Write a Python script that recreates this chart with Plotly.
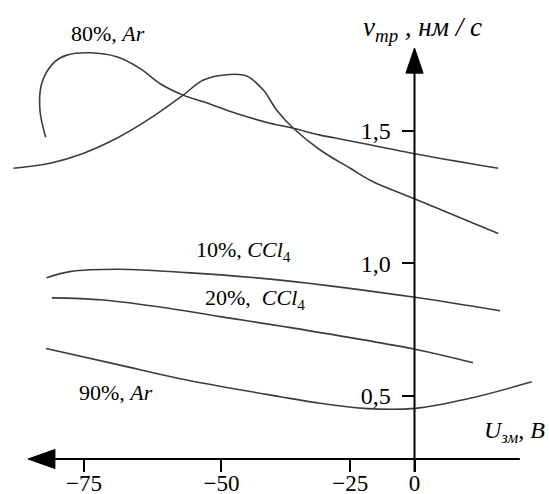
import plotly.graph_objects as go

# ---------------- data ----------------
# x: U_зм in the drawing's axis units, y: v_тр (nm/s)
AR80_U = [-83.7, -85.0, -84.6, -82.0, -78.9, -73.6, -67.6, -62.3, -57.8, -52.5, -47.9,
          -40.4, -32.8, -27.5, -21.4, -15.4, -0.3, 19.0]
AR80_V = [1.475, 1.578, 1.678, 1.754, 1.785, 1.794, 1.779, 1.735, 1.678, 1.634, 1.609,
          1.565, 1.528, 1.509, 1.483, 1.464, 1.414, 1.358]

HUMP_U = [-91.0, -82.7, -75.2, -67.6, -60.0, -52.5, -47.9, -41.9, -38.1, -34.3, -31.3,
          -27.5, -21.4, -14.6, -9.4, -0.3, 19.0]
HUMP_V = [1.358, 1.377, 1.414, 1.471, 1.546, 1.634, 1.691, 1.712, 1.706, 1.653, 1.578,
          1.509, 1.427, 1.358, 1.307, 1.245, 1.112]

CCL10_U = [-83.5, -78.2, -66.8, -51.7, -30.5, 0.1, 19.4]
CCL10_V = [0.945, 0.968, 0.977, 0.964, 0.936, 0.871, 0.820]

CCL20_U = [-82.3, -70.6, -55.5, -44.1, -30.5, 0.1, 13.3]
CCL20_V = [0.869, 0.861, 0.829, 0.798, 0.763, 0.675, 0.624]

AR90_U = [-83.6, -66.8, -51.7, -30.5, -21.4, -11.6, 0.1, 12.6, 26.6]
AR90_V = [0.678, 0.615, 0.559, 0.496, 0.471, 0.452, 0.452, 0.490, 0.552]

X_TICK_TEXT = ["\u221275", "\u221250", "\u221225", "0"]
X_TICK_VALS = [-75, -43.8, -14.6, 0]
Y_TICK_TEXT = ["0,5", "1,0", "1,5"]
Y_TICK_VALS = [0.5, 1.0, 1.5]

CURVE_LABELS = ["80%, <i>Ar</i>", "10%, <i>CCl</i><sub>4</sub>",
                "20%,  <i>CCl</i><sub>4</sub>", "90%, <i>Ar</i>"]
CURVE_LABEL_X = [-69.6, -38.7, -36.2, -67.7]
CURVE_LABEL_Y = [1.865, 1.046, 0.865, 0.510]

Y_TITLE = "<i>\u03bd</i><sub><i>тр</i></sub><i> , нм / с</i>"
X_TITLE = "<i>U</i><sub><i>зм</i></sub><i>, В</i>"

# ---------------- figure ----------------
FONT = "Liberation Serif"
CURVE_COLOR = "#3c3c3c"

fig = go.Figure()
for xs, ys in [(AR80_U, AR80_V), (HUMP_U, HUMP_V), (CCL10_U, CCL10_V),
               (CCL20_U, CCL20_V), (AR90_U, AR90_V)]:
    fig.add_trace(go.Scatter(x=xs, y=ys, mode="lines",
                             line=dict(color=CURVE_COLOR, width=1.6, shape="spline", smoothing=1.0),
                             hoverinfo="skip", showlegend=False))

X_RANGE = [-94.06, 30.52]
Y_RANGE = [0.1287, 1.993]
X_AXIS_V = 0.2608   # where the horizontal axis crosses

def ypos(v):
    return (v - Y_RANGE[0]) / (Y_RANGE[1] - Y_RANGE[0])

def xpos(u):
    return (u - X_RANGE[0]) / (X_RANGE[1] - X_RANGE[0])

fig.update_layout(
    width=549, height=494, autosize=False,
    margin=dict(l=0, r=0, t=0, b=0, autoexpand=False),
    paper_bgcolor="white", plot_bgcolor="white",
    showlegend=False,
    xaxis=dict(range=X_RANGE, anchor="free", position=ypos(X_AXIS_V), automargin=False,
               showgrid=False, zeroline=False, showline=False,
               ticks="outside", ticklen=12, tickwidth=1.5, tickcolor="black",
               ticklabelstandoff=-9,
               tickvals=X_TICK_VALS, ticktext=X_TICK_TEXT,
               tickfont=dict(family=FONT, size=23, color="black")),
    yaxis=dict(range=Y_RANGE, anchor="free", position=xpos(0), automargin=False,
               showgrid=False, zeroline=False, showline=False,
               ticks="outside", ticklen=13, tickwidth=1.5, tickcolor="black",
               ticklabelstandoff=6,
               tickvals=Y_TICK_VALS, ticktext=Y_TICK_TEXT,
               tickfont=dict(family=FONT, size=24, color="black")),
)

# axis lines and arrowheads
fig.add_shape(type="line", x0=-86.0, x1=23.9, y0=X_AXIS_V, y1=X_AXIS_V,
              line=dict(color="black", width=2))
fig.add_shape(type="line", x0=0, x1=0, y0=0.212, y1=1.75,
              line=dict(color="black", width=2))
fig.add_shape(type="path",
              path=f"M -87.7,{X_AXIS_V} L -81.6,{X_AXIS_V + 0.036} L -81.6,{X_AXIS_V - 0.036} Z",
              fillcolor="black", line=dict(color="black", width=1))
fig.add_shape(type="path", path="M 0,1.812 L 1.95,1.717 L -1.95,1.717 Z",
              fillcolor="black", line=dict(color="black", width=1))

for t, x, y in zip(CURVE_LABELS, CURVE_LABEL_X, CURVE_LABEL_Y):
    fig.add_annotation(x=x, y=y, text=t, showarrow=False,
                       font=dict(family=FONT, size=22, color="black"))

fig.add_annotation(x=1.9, y=1.884, text=Y_TITLE, showarrow=False,
                   font=dict(family=FONT, size=27, color="black"))
fig.add_annotation(x=22.6, y=0.363, text=X_TITLE, showarrow=False,
                   font=dict(family=FONT, size=24, color="black"))

fig.write_html("out.html", config={"displayModeBar": False},
               post_script="document.body.style.margin='0';document.body.style.overflow='hidden';")
